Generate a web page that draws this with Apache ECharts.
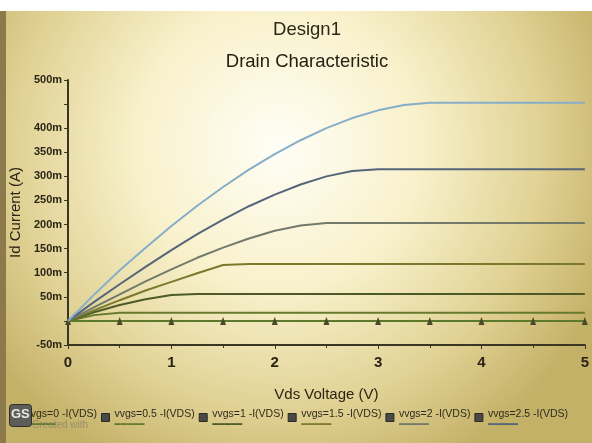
<!DOCTYPE html>
<html>
<head>
<meta charset="utf-8">
<title>Design1 Drain Characteristic</title>
<script src="https://cdn.jsdelivr.net/npm/echarts@6/dist/echarts.min.js"></script>
<style>
  html, body { margin: 0; padding: 0; }
  #chart { width: 592px; height: 443px; }
</style>
</head>
<body>
<div id="chart"></div>
<script>
"use strict";

// Vds sweep (V)
const vds = [0, 0.25, 0.5, 0.75, 1, 1.25, 1.5, 1.75, 2, 2.25, 2.5, 2.75, 3, 3.25, 3.5, 3.75, 4, 4.25, 4.5, 4.75, 5];

// Id (mA), one array per gate voltage
const idVgs0   = [0, 0, 0, 0, 0, 0, 0, 0, 0, 0, 0, 0, 0, 0, 0, 0, 0, 0, 0, 0, 0];
const idVgs0_5 = [0, 12, 17, 17, 17, 17, 17, 17, 17, 17, 17, 17, 17, 17, 17, 17, 17, 17, 17, 17, 17];
const idVgs1   = [0, 18, 33, 45, 54, 56, 56, 56, 56, 56, 56, 56, 56, 56, 56, 56, 56, 56, 56, 56, 56];
const idVgs1_5 = [0, 22, 43, 63, 81, 99, 116, 118, 118, 118, 118, 118, 118, 118, 118, 118, 118, 118, 118, 118, 118];
const idVgs2   = [0, 28, 55, 82, 107, 131, 152, 171, 187, 198, 203, 203, 203, 203, 203, 203, 203, 203, 203, 203, 203];
const idVgs2_5 = [0, 39, 76, 112, 147, 180, 210, 238, 262, 283, 300, 311, 315, 315, 315, 315, 315, 315, 315, 315, 315];
const idVgs3   = [0, 54, 105, 152, 197, 239, 278, 314, 346, 375, 400, 421, 437, 448, 453, 453, 453, 453, 453, 453, 453];

const seriesNames = ["vvgs=0 -I(VDS)", "vvgs=0.5 -I(VDS)", "vvgs=1 -I(VDS)", "vvgs=1.5 -I(VDS)",
  "vvgs=2 -I(VDS)", "vvgs=2.5 -I(VDS)", "vvgs=3 -I(VDS)"];
const seriesData = [idVgs0, idVgs0_5, idVgs1, idVgs1_5, idVgs2, idVgs2_5, idVgs3];
const seriesColors = ["#5d7a2c", "#667a2e", "#4c5a28", "#7b7a2c", "#737a6c", "#56657a", "#86aec8"];

// legend only shows the first six (last one is off the photo)
const legendNames = seriesNames.slice(0, 6);

let chart = echarts.init(document.getElementById("chart"));

let pair = function(ys) {
  return vds.map(function(x, i) { return [x, ys[i]]; });
};

let series = seriesData.map(function(ys, k) {
  let s = {
    name: seriesNames[k],
    type: "line",
    data: pair(ys),
    smooth: false,
    lineStyle: { color: seriesColors[k], width: 2 },
    itemStyle: { color: seriesColors[k] },
    symbol: "none",
    z: 3 + k
  };
  // vgs=0 trace has triangle markers every 0.5 V
  if (k === 0) {
    s.symbol = function(val) {
      return (Math.round(val[0] * 100) % 50 === 0) ? "triangle" : "none";
    };
    s.symbolSize = [6, 8];
    s.itemStyle = { color: "#4a4a2a" };
    s.showSymbol = true;
  }
  return s;
});

let legendRich = { t: { fontSize: 10.5, color: "#2f2a1c", fontFamily: "Liberation Sans Narrow, Liberation Sans, sans-serif", lineHeight: 11 } };
seriesColors.forEach(function(c, k) {
  legendRich["u" + k] = { fontSize: 6, color: c, lineHeight: 6 };
});

let option = {
  backgroundColor: {
    type: "radial", x: 0.47, y: 0.33, r: 0.8,
    colorStops: [
      { offset: 0, color: "#fffef6" },
      { offset: 0.4, color: "#f8f1cb" },
      { offset: 0.75, color: "#e0d193" },
      { offset: 1, color: "#c4b168" }
    ]
  },
  animation: false,
  title: [
    { text: "Design1", left: 302, top: 15, textAlign: "center",
      textStyle: { fontSize: 18.5, fontWeight: "normal", color: "#2e2718", fontFamily: "Liberation Sans, Arial, sans-serif" } },
    { text: "Drain Characteristic", left: 302, top: 47, textAlign: "center",
      textStyle: { fontSize: 18.5, fontWeight: "normal", color: "#272012", fontFamily: "Liberation Sans, Arial, sans-serif" } }
  ],
  graphic: [
    { type: "rect", left: 0, top: 0, shape: { width: 592, height: 11 }, style: { fill: "#ffffff" }, z: 100 },
    { type: "rect", left: 0, top: 11, shape: { width: 6, height: 432 }, style: { fill: "#8c7a4a" }, z: 100 },
    { type: "rect", left: 9, top: 404, shape: { width: 22, height: 22, r: 3 }, style: { fill: "#5c5c58", stroke: "#2e2e2a" }, z: 100 },
    { type: "text", left: 11, top: 408, style: { text: "GS", fontSize: 13, fontWeight: "bold", fill: "#e9e9e4", fontFamily: "Liberation Sans, sans-serif" }, z: 101 },
    { type: "text", left: 32, top: 420, style: { text: "Created with", fontSize: 10, fill: "rgba(120,120,110,0.6)", fontFamily: "Liberation Sans, sans-serif" }, z: 101 }
  ],
  legend: {
    data: legendNames,
    left: 7,
    top: 404,
    itemWidth: 8,
    itemHeight: 8,
    itemGap: 4,
    icon: "rect",
    itemStyle: { color: "#4a4a44", borderColor: "#2a2a26", borderWidth: 1 },
    formatter: function(name) {
      let k = seriesNames.indexOf(name);
      return "{t|" + name + "}\n{u" + k + "|▬▬▬▬▬}";
    },
    textStyle: { rich: legendRich },
    selectedMode: false
  },
  grid: { left: 66, right: 1, top: 80, bottom: 98 },
  xAxis: {
    type: "value",
    min: 0,
    max: 5,
    interval: 1,
    name: "Vds Voltage (V)",
    nameLocation: "middle",
    nameGap: 42,
    nameTextStyle: { fontSize: 15, color: "#2b2416", fontFamily: "Liberation Sans Narrow, Liberation Sans, sans-serif" },
    axisLine: { onZero: false, lineStyle: { color: "#3b3624", width: 2 } },
    axisTick: { show: true, length: 4, lineStyle: { color: "#3b3624" } },
    minorTick: { show: true, splitNumber: 2, length: 3, lineStyle: { color: "#3b3624" } },
    axisLabel: { margin: 10, fontSize: 15, fontWeight: "bold", color: "#2b2416",
      fontFamily: "Liberation Sans Narrow, Liberation Sans, sans-serif" },
    splitLine: { show: false }
  },
  yAxis: {
    type: "value",
    min: -50,
    max: 500,
    interval: 50,
    name: "Id Current (A)",
    nameLocation: "middle",
    nameGap: 40,
    nameTextStyle: { fontSize: 15, color: "#2b2416", fontFamily: "Liberation Sans Narrow, Liberation Sans, sans-serif" },
    axisLine: { show: true, lineStyle: { color: "#3b3624", width: 2 } },
    axisTick: { show: true, length: 4, lineStyle: { color: "#3b3624" } },
    axisLabel: {
      margin: 6, fontSize: 11, fontWeight: "bold", color: "#2b2416",
      fontFamily: "Liberation Sans Narrow, Liberation Sans, sans-serif",
      formatter: function(v) {
        return (v === 0 || v === 450) ? "" : v + "m";
      }
    },
    splitLine: { show: false }
  },
  series: series
};

chart.setOption(option);
</script>
</body>
</html>
